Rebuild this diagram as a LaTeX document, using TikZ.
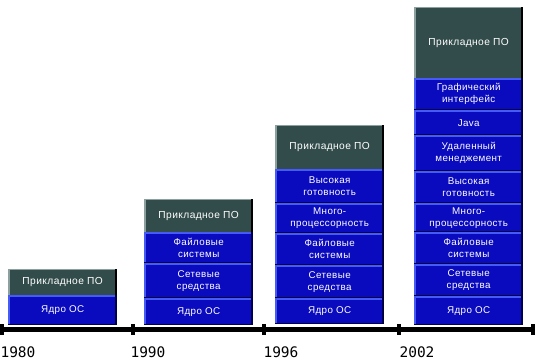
\documentclass[tikz,border=0pt]{standalone}
\usepackage{fontspec}
\setmainfont{Liberation Sans}
\newfontfamily\yearfont{DejaVu Sans Mono}
\newfontfamily\boxfont[LetterSpace=4]{Liberation Sans}
\definecolor{boxblue}{RGB}{10,10,190}
\definecolor{boxlight}{RGB}{70,90,245}
\definecolor{boxdark}{RGB}{0,0,70}
\definecolor{boxgray}{RGB}{50,76,75}
\definecolor{graylight}{RGB}{140,160,158}
\tikzset{
  layer/.style={inner sep=0pt, anchor=north west, text=white, align=center,
    minimum width=109pt},
  bluebox/.style={layer, fill=boxblue, font=\boxfont\fontsize{9.8}{12}\selectfont,
    path picture={
      \fill[boxlight] (path picture bounding box.north west) rectangle ([yshift=-2pt]path picture bounding box.north east);
      \fill[boxlight] (path picture bounding box.north west) rectangle ([xshift=2pt]path picture bounding box.south west);
      \fill[boxdark] ([xshift=-2.5pt]path picture bounding box.north east) rectangle (path picture bounding box.south east);
      \fill[boxdark] (path picture bounding box.south west) rectangle ([yshift=1.2pt]path picture bounding box.south east);
    }},
  graybox/.style={layer, fill=boxgray, font=\boxfont\fontsize{10.2}{12}\selectfont,
    path picture={
      \fill[graylight] (path picture bounding box.north west) rectangle ([xshift=1.5pt]path picture bounding box.south west);
      \fill[graylight] (path picture bounding box.north west) rectangle ([yshift=-1pt]path picture bounding box.north east);
      \fill[black] ([xshift=-2.5pt]path picture bounding box.north east) rectangle (path picture bounding box.south east);
    }},
  tickmark/.style={fill=black, inner sep=0pt, minimum width=4pt, minimum height=11pt},
  axisline/.style={line width=5pt, black},
  yearlabel/.style={font=\yearfont\fontsize{14.5}{15}\selectfont, inner sep=0pt}
}
\begin{document}
\begin{tikzpicture}[x=1pt,y=-1pt]
\useasboundingbox[fill=white] (0,0) rectangle (547,363);
% 1980
\node[graybox, minimum height=26pt] (a0) at (8,269) {Прикладное ПО};
\node[bluebox, minimum height=30pt] (a1) at (8,295) {Ядро ОС};
% 1990
\node[graybox, minimum height=33pt] (b0) at (144,199) {Прикладное ПО};
\node[bluebox, minimum height=31pt] (b1) at (144,232) {Файловые\\системы};
\node[bluebox, minimum height=35pt] (b2) at (144,263) {Сетевые\\средства};
\node[bluebox, minimum height=27pt] (b3) at (144,298) {Ядро ОС};
% 1996
\node[graybox, minimum height=44pt] (c0) at (275,125) {Прикладное ПО};
\node[bluebox, minimum height=34pt] (c1) at (275,169) {Высокая\\готовность};
\node[bluebox, minimum height=30pt] (c2) at (275,203) {Много-\\процессорность};
\node[bluebox, minimum height=32pt] (c3) at (275,233) {Файловые\\системы};
\node[bluebox, minimum height=33pt] (c4) at (275,265) {Сетевые\\средства};
\node[bluebox, minimum height=26pt] (c5) at (275,298) {Ядро ОС};
% 2002
\node[graybox, minimum height=71pt] (d0) at (414,7) {Прикладное ПО};
\node[bluebox, minimum height=32pt] (d1) at (414,78) {Графический\\интерфейс};
\node[bluebox, minimum height=25pt] (d2) at (414,110) {Java};
\node[bluebox, minimum height=36pt] (d3) at (414,135) {Удаленный\\менеджемент};
\node[bluebox, minimum height=32pt] (d4) at (414,171) {Высокая\\готовность};
\node[bluebox, minimum height=29pt] (d5) at (414,203) {Много-\\процессорность};
\node[bluebox, minimum height=32pt] (d6) at (414,232) {Файловые\\системы};
\node[bluebox, minimum height=32pt] (d7) at (414,264) {Сетевые\\средства};
\node[bluebox, minimum height=29pt] (d8) at (414,296) {Ядро ОС};
% timeline
\node[tickmark] (k0) at (2,330) {};
\node[tickmark] (k1) at (133,330) {};
\node[tickmark] (k2) at (264,330) {};
\node[tickmark] (k3) at (399,330) {};
\node[tickmark] (k4) at (533,330) {};
\draw[axisline] (k0.center) -- (k4.center);
\node[yearlabel] (y0) at (18,352) {1980};
\node[yearlabel] (y1) at (148,352) {1990};
\node[yearlabel] (y2) at (281,352) {1996};
\node[yearlabel] (y3) at (417,352) {2002};
\end{tikzpicture}
\end{document}
